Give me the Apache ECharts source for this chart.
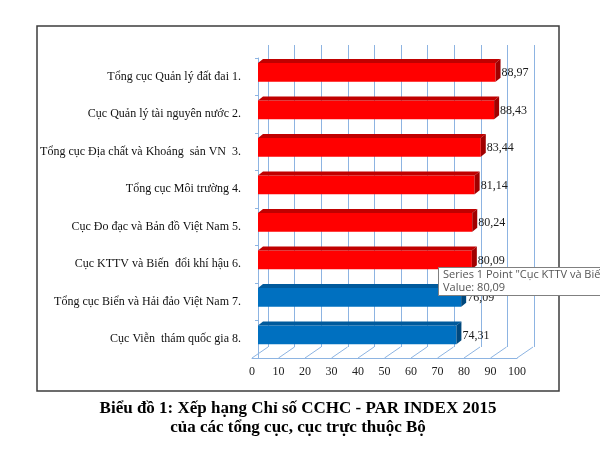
<!DOCTYPE html>
<html>
<head>
<meta charset="utf-8">
<script src="https://cdn.jsdelivr.net/npm/echarts@6/dist/echarts.min.js"></script>
<style>
  html, body { margin: 0; padding: 0; background: #fff; }
  #chart { width: 600px; height: 451px; }
</style>
</head>
<body>
<div id="chart"></div>
<script>
const categories = [
  'Tổng cục Quản lý đất đai 1.',
  'Cục Quản lý tài nguyên nước 2.',
  'Tổng cục Địa chất và Khoáng  sản VN  3.',
  'Tổng cục Môi trường 4.',
  'Cục Đo đạc và Bản đồ Việt Nam 5.',
  'Cục KTTV và Biến  đổi khí hậu 6.',
  'Tổng cục Biển và Hải đảo Việt Nam 7.',
  'Cục Viễn  thám quốc gia 8.',
];
const values = [88.97, 88.43, 83.44, 81.14, 80.24, 80.09, 76.09, 74.31];
const tiers = ['top', 'top', 'top', 'top', 'top', 'top', 'low', 'low'];
const axisTicks = [0, 10, 20, 30, 40, 50, 60, 70, 80, 90, 100];
const titleLines = [
  'Biểu đồ 1: Xếp hạng Chỉ số CCHC - PAR INDEX 2015',
  'của các tổng cục, cục trực thuộc Bộ',
];
const tipLines = [
  'Series 1 Point "Cục KTTV và Biến đổi khí hậu 6."',
  'Value: 80,09',
];

const SERIF = '"Liberation Serif", "DejaVu Serif", serif';
const palette = {
  top: { front: '#ff0000', roof: '#c00000', side: '#a00000' },
  low: { front: '#0070c0', roof: '#005a9c', side: '#00487d' },
};
const gridBlue = '#8db4e2';
const DX = 5, DY = 4;

function fmtVal(v) {
  return v.toFixed(2).replace('.', ',');
}

function renderBar(params, api) {
  const cat = api.value(1);
  const val = api.value(0);
  const start = api.coord([0, cat]);
  const end = api.coord([val, cat]);
  const h = api.size([0, 1])[1] * 0.5;
  const cy = start[1] - 4.5;
  const top = cy - h / 2;
  const bot = cy + h / 2;
  const c = palette[tiers[params.dataIndex]];
  return {
    type: 'group',
    children: [
      { type: 'rect', shape: { x: start[0], y: top, width: end[0] - start[0], height: h }, style: { fill: c.front } },
      { type: 'polygon', shape: { points: [[start[0], top], [start[0] + DX, top - DY], [end[0] + DX, top - DY], [end[0], top]] }, style: { fill: c.roof } },
      { type: 'polygon', shape: { points: [[end[0], top], [end[0] + DX, top - DY], [end[0] + DX, bot - DY], [end[0], bot]] }, style: { fill: c.side } },
      { type: 'text', x: end[0] + DX + 1, y: cy + 1, style: { text: fmtVal(val), font: '12px ' + SERIF, fill: '#1a1a1a', align: 'left', verticalAlign: 'middle' } },
    ],
  };
}

function renderFloor(params, api) {
  const p = api.coord([api.value(0), 0]);
  return { type: 'line', shape: { x1: p[0], y1: p[1], x2: p[0] + 16, y2: p[1] - 11 }, style: { stroke: gridBlue, lineWidth: 1 } };
}

const chart = echarts.init(document.getElementById('chart'));
chart.setOption({
  animation: false,
  backgroundColor: '#fff',
  grid: [
    { left: 258, width: 267, top: 58, height: 300 },
    { left: 252, width: 265, top: 58, height: 300 },
    { left: 268, width: 266, top: 45, height: 302 },
  ],
  xAxis: [
    { gridIndex: 0, type: 'value', min: 0, max: 100, show: false },
    {
      gridIndex: 1, type: 'value', min: 0, max: 100, interval: 10,
      axisLine: { show: true, lineStyle: { color: gridBlue } },
      axisTick: { show: false },
      splitLine: { show: false },
      axisLabel: { color: '#222', fontFamily: SERIF, fontSize: 12, margin: 8 },
    },
    {
      gridIndex: 2, type: 'value', min: 0, max: 100, interval: 10,
      axisLine: { show: false }, axisTick: { show: false }, axisLabel: { show: false },
      splitLine: { show: true, lineStyle: { color: gridBlue, width: 1 } },
    },
  ],
  yAxis: [
    {
      gridIndex: 0, type: 'category', data: categories, inverse: true, offset: 7,
      axisLine: { show: true, lineStyle: { color: gridBlue } },
      axisTick: { show: true, length: 3, lineStyle: { color: gridBlue } },
      axisLabel: { color: '#111', fontFamily: SERIF, fontSize: 12, margin: 10 },
    },
    { gridIndex: 1, type: 'value', min: 0, max: 1, show: false },
    { gridIndex: 2, type: 'value', min: 0, max: 1, show: false },
  ],
  series: [
    {
      type: 'custom', xAxisIndex: 1, yAxisIndex: 1,
      data: axisTicks.map((t) => [t, 0]),
      renderItem: renderFloor, silent: true,
    },
    {
      type: 'custom', xAxisIndex: 0, yAxisIndex: 0,
      data: values.map((v, i) => [v, i]),
      encode: { x: 0, y: 1 },
      renderItem: renderBar, z: 5,
    },
  ],
  graphic: [
    { type: 'rect', z: 100, shape: { x: 37, y: 26, width: 522, height: 365 }, style: { fill: null, stroke: '#3c3c3c', lineWidth: 1.5 } },
    { type: 'text', z: 100, x: 298, y: 409, style: { text: titleLines[0], font: 'bold 17px ' + SERIF, fill: '#000', align: 'center', verticalAlign: 'middle' } },
    { type: 'text', z: 100, x: 298, y: 428, style: { text: titleLines[1], font: 'bold 17px ' + SERIF, fill: '#000', align: 'center', verticalAlign: 'middle' } },
    { type: 'rect', z: 100, shape: { x: 438.5, y: 267.5, width: 170, height: 28 }, style: { fill: '#fff', stroke: '#808080', lineWidth: 1 } },
    { type: 'text', z: 101, x: 443, y: 275, style: { text: tipLines[0], font: '11px "Open Sans", sans-serif', fill: '#555', verticalAlign: 'middle' } },
    { type: 'text', z: 101, x: 443, y: 288, style: { text: tipLines[1], font: '11px "Open Sans", sans-serif', fill: '#555', verticalAlign: 'middle' } },
  ],
});
</script>
</body>
</html>
